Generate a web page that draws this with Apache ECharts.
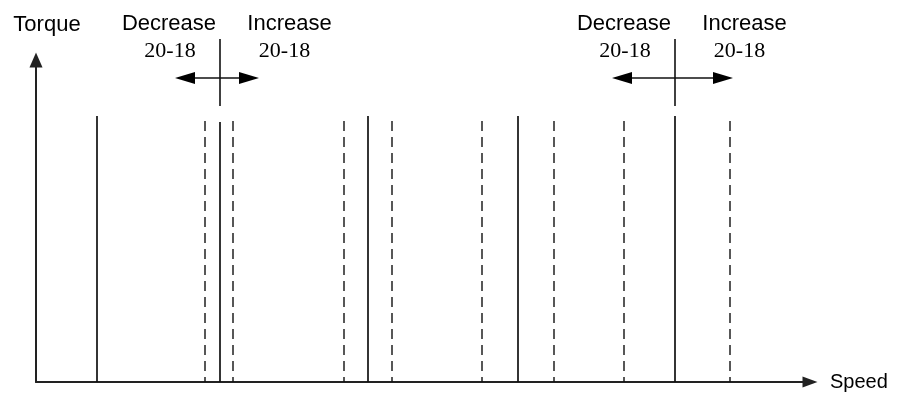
<!DOCTYPE html>
<html><head><meta charset="utf-8">
<script src="https://cdn.jsdelivr.net/npm/echarts@6/dist/echarts.min.js"></script>
<style>html,body{margin:0;padding:0;background:#fff}#c{width:898px;height:397px}</style>
</head><body><div id="c"></div>
<script>
// ---- data (speed / torque units) ----
const solidSpeeds   = [61, 184, 332, 482, 639];
const solidTorques  = [266, 260, 266, 266, 266];
const dashedSpeeds  = [169, 197, 308, 356, 446, 518, 588, 694];
const dashedTorques = [261, 261, 261, 261, 261, 261, 261, 261];
const markerSpeeds  = [184, 639];
const arrowFrom     = [139, 576];
const arrowTo       = [223, 697];
const markerSpan    = [276, 343];
const arrowLevel    = [304, 304];
const leftTexts     = ['Decrease', '20-18'];
const rightTexts    = ['Increase', '20-18'];
const axisNames     = ['Speed', 'Torque'];
const speedMax = 774, torqueMax = 322;

const SANS = '"Liberation Sans", Arial, sans-serif';
const SERIF = '"Liberation Serif", "Times New Roman", serif';

const lineData = [];
solidSpeeds.forEach((s, i) => lineData.push([s, solidTorques[i], 0]));
dashedSpeeds.forEach((s, i) => lineData.push([s, dashedTorques[i], 1]));
const annoData = markerSpeeds.map((m, i) => [m, arrowLevel[i], arrowFrom[i], arrowTo[i]]);

function renderVLine(params, api) {
  const x = api.value(0), t = api.value(1), dashed = api.value(2);
  const pTop = api.coord([x, t]);
  const pBot = api.coord([x, 0]);
  return {
    type: 'line',
    shape: { x1: pTop[0], y1: pTop[1], x2: pBot[0], y2: pBot[1] },
    style: { stroke: '#111', lineWidth: dashed ? 1.4 : 1.7, lineDash: dashed ? [10, 6] : null }
  };
}

function renderAnno(params, api) {
  const m = api.value(0), lvl = api.value(1), from = api.value(2), to = api.value(3);
  const top = api.coord([m, markerSpan[1]]);
  const bot = api.coord([m, markerSpan[0]]);
  const a = api.coord([from, lvl]);
  const b = api.coord([to, lvl]);
  const hl = 20, hw = 6;
  const txt = (text, x, y, font, size) => ({
    type: 'text',
    style: { text, x, y, align: 'center', verticalAlign: 'middle', fontFamily: font, fontSize: size, fill: '#000' }
  });
  return {
    type: 'group',
    children: [
      { type: 'line', shape: { x1: top[0], y1: top[1], x2: bot[0], y2: bot[1] }, style: { stroke: '#111', lineWidth: 1.6 } },
      { type: 'line', shape: { x1: a[0] + hl - 2, y1: a[1], x2: b[0] - hl + 2, y2: b[1] }, style: { stroke: '#111', lineWidth: 1.7 } },
      { type: 'polygon', shape: { points: [[a[0], a[1]], [a[0] + hl, a[1] - hw], [a[0] + hl, a[1] + hw]] }, style: { fill: '#000' } },
      { type: 'polygon', shape: { points: [[b[0], b[1]], [b[0] - hl, b[1] - hw], [b[0] - hl, b[1] + hw]] }, style: { fill: '#000' } },
      txt(leftTexts[0], top[0] - 51, top[1] - 15, SANS, 22),
      txt(leftTexts[1], top[0] - 50, top[1] + 12, SERIF, 22),
      txt(rightTexts[0], top[0] + 69.5, top[1] - 15, SANS, 22),
      txt(rightTexts[1], top[0] + 64.5, top[1] + 12, SERIF, 22)
    ]
  };
}

const chart = echarts.init(document.getElementById('c'));
chart.setOption({
  animation: false,
  backgroundColor: '#fff',
  grid: { left: 36, right: 88, top: 60, bottom: 15, containLabel: false, outerBoundsMode: 'none' },
  xAxis: {
    type: 'value', min: 0, max: speedMax,
    name: axisNames[0], nameLocation: 'end', nameGap: 20,
    nameTextStyle: { fontFamily: SANS, fontSize: 20, color: '#000', align: 'left', verticalAlign: 'middle' },
    axisLine: { show: true, onZero: false, symbol: ['none', 'triangle'], symbolSize: [11, 15], lineStyle: { color: '#222', width: 2 } },
    axisTick: { show: false }, axisLabel: { show: false }, splitLine: { show: false }
  },
  yAxis: {
    type: 'value', min: 0, max: torqueMax,
    name: axisNames[1], nameLocation: 'end', nameGap: 35,
    nameTextStyle: { fontFamily: SANS, fontSize: 22, color: '#000', align: 'center', verticalAlign: 'middle', padding: [0, 0, 0, 22] },
    axisLine: { show: true, onZero: false, symbol: ['none', 'triangle'], symbolSize: [13, 15], lineStyle: { color: '#222', width: 2 } },
    axisTick: { show: false }, axisLabel: { show: false }, splitLine: { show: false }
  },
  series: [
    { type: 'custom', renderItem: renderVLine, data: lineData, encode: { x: 0, y: 1 }, clip: false, silent: true },
    { type: 'custom', renderItem: renderAnno, data: annoData, encode: { x: 0, y: 1 }, clip: false, silent: true }
  ]
});
</script>
</body></html>
